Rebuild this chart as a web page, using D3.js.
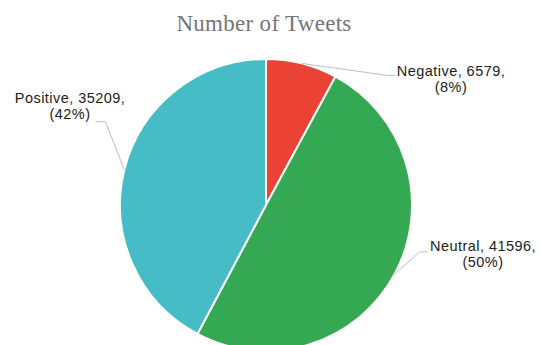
<!DOCTYPE html>
<html>
<head>
<meta charset="utf-8">
<script src="https://cdn.jsdelivr.net/npm/d3@7"></script>
<style>
  body { margin: 0; background: #fff; }
  svg { display: block; }
</style>
</head>
<body>
<svg id="chart" width="541" height="345"></svg>
<script>
// data
const sentiments = ["Negative", "Neutral", "Positive"];
const tweetCounts = [6579, 41596, 35209];
const sliceColors = ["#ea4335", "#34a853", "#46bdc6"];

// label leader layout (elbow offset from slice edge, end of line, text box)
const labelLayout = [
  { elbow: [86, 12], tail: 7, textX: 451, textY: 76 },
  { elbow: [25, -22], tail: 8, textX: 483, textY: 251 },
  { elbow: [-19, -48], tail: -10, textX: 70, textY: 103 }
];

const width = 541, height = 345;
const cx = 266, cy = 205, radius = 146;

const svg = d3.select("#chart");

svg.append("text")
  .attr("x", 264)
  .attr("y", 31)
  .attr("text-anchor", "middle")
  .style("font-family", "'Liberation Serif', 'Times New Roman', serif")
  .style("font-size", "23px")
  .style("letter-spacing", "0.3px")
  .style("fill", "#757575")
  .text("Number of Tweets");

const data = sentiments.map((s, i) => ({ name: s, value: tweetCounts[i], color: sliceColors[i] }));
const total = d3.sum(tweetCounts);

const pie = d3.pie().value(d => d.value).sort(null);
const arc = d3.arc().innerRadius(0).outerRadius(radius);
const arcs = pie(data);

const g = svg.append("g").attr("transform", `translate(${cx},${cy})`);

g.selectAll("path.slice")
  .data(arcs)
  .join("path")
  .attr("class", "slice")
  .attr("d", arc)
  .attr("fill", d => d.data.color)
  .attr("stroke", "#fff")
  .attr("stroke-width", 2);

// leader lines
arcs.forEach((d, i) => {
  const mid = (d.startAngle + d.endAngle) / 2;
  const ex = cx + radius * Math.sin(mid);
  const ey = cy - radius * Math.cos(mid);
  const lay = labelLayout[i];
  const bx = ex + lay.elbow[0], by = ey + lay.elbow[1];
  svg.append("polyline")
    .attr("points", [[ex, ey], [bx, by], [bx + lay.tail, by]].map(p => p.join(",")).join(" "))
    .attr("fill", "none")
    .attr("stroke", "#bdbdbd")
    .attr("stroke-width", 1);

  const pct = Math.round(d.data.value / total * 100);
  const t = svg.append("text")
    .attr("text-anchor", "middle")
    .style("font-family", "'Liberation Sans', Arial, sans-serif")
    .style("font-size", "14.5px")
    .style("letter-spacing", "0.45px")
    .style("fill", "#222");
  t.append("tspan").attr("x", lay.textX).attr("y", lay.textY)
    .text(`${d.data.name}, ${d.data.value},`);
  t.append("tspan").attr("x", lay.textX).attr("y", lay.textY + 16)
    .text(`(${pct}%)`);
});
</script>
</body>
</html>
